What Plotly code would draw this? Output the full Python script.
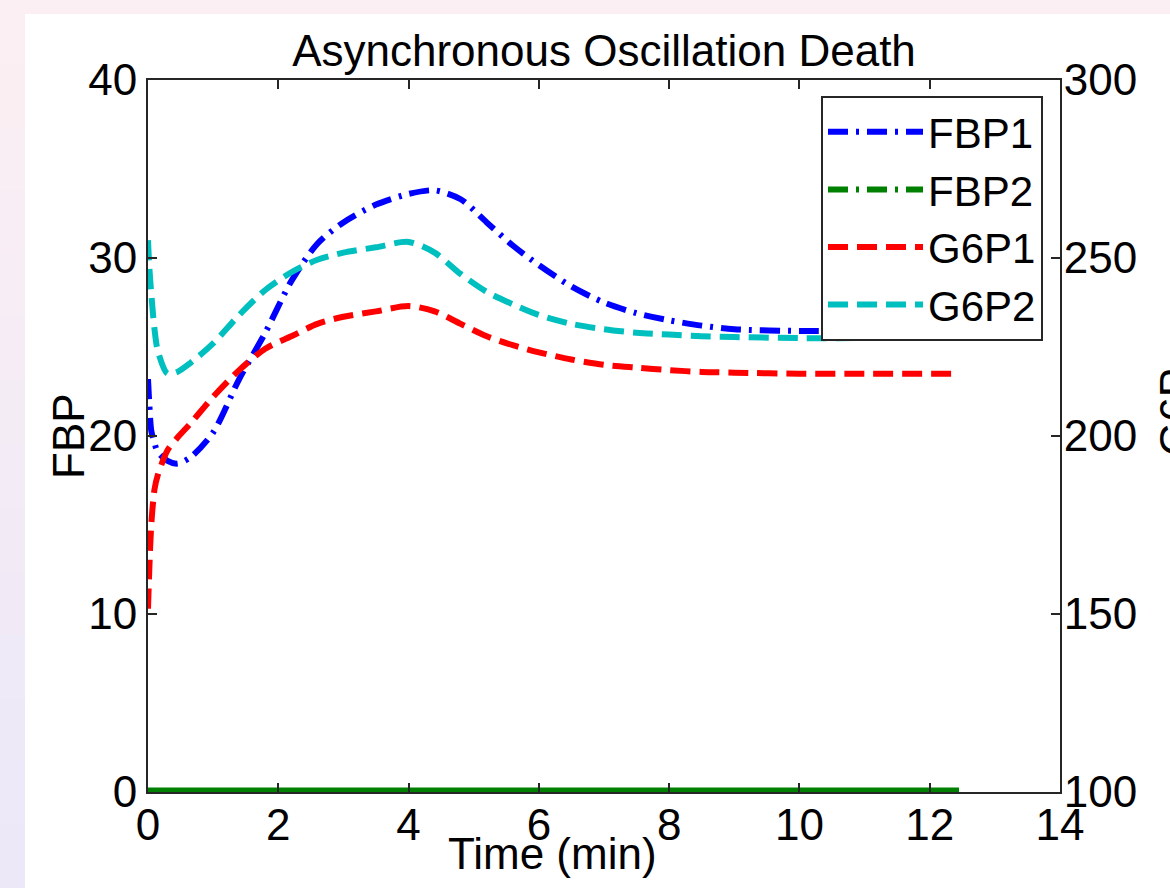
import plotly.graph_objects as go

# ---- data ----
time_min = [0, 0.02, 0.05, 0.1, 0.15, 0.3, 0.45, 0.65, 1.0, 1.4, 1.8, 2.2, 2.6, 3.0, 3.5,
            4.0, 4.4, 4.8, 5.2, 5.6, 6.0, 6.5, 7.0, 7.5, 8.0, 8.5, 9.0, 10.0, 11.0, 12.45]

fbp1 = [23.2, 21.8, 20.3, 19.6, 19.1, 18.6, 18.45, 18.8, 20.2, 23.2, 25.8, 28.7, 30.8, 32.0, 33.0,
        33.6, 33.8, 33.3, 32.0, 30.7, 29.6, 28.4, 27.5, 26.9, 26.5, 26.2, 26.0, 25.9, 25.9, 25.9]

fbp2 = [0.0] * len(time_min)

g6p1 = [151.5, 162.5, 175, 185, 189, 196, 199.5, 203.5, 211, 218.5, 224.5, 228, 231.5, 233.5, 235,
        236.5, 235, 231.5, 228, 225.5, 223.5, 221.5, 220, 219.2, 218.5, 218, 217.8, 217.5, 217.5, 217.5]

g6p2 = [255, 247.5, 240, 230, 224, 217.5, 218, 220.5, 226, 234, 241, 246, 249.5, 251.5, 253,
        254.5, 251.5, 245.5, 240.5, 237, 234, 231.5, 230, 229, 228.5, 228, 227.8, 227.5, 227.5, 227.5]

x_ticks = [0, 2, 4, 6, 8, 10, 12, 14]
fbp_ticks = [0, 10, 20, 30, 40]
g6p_ticks = [100, 150, 200, 250, 300]

FONT = "Liberation Sans, Arial, Helvetica, sans-serif"
W, H = 1170, 888
L, R, T, B = 148, 110, 80, 96
PW, PH = W - L - R, H - T - B


def px_x(p):
    return (p - L) / PW


def px_y(p):
    return (H - B - p) / PH


DASHDOT = "20px,8px,3px,8px"
DASH = "20px,9px"

fig = go.Figure()
fig.add_trace(go.Scatter(x=time_min, y=fbp1, name="FBP1", mode="lines",
                         line=dict(color="#0000ff", width=6, dash=DASHDOT, shape="spline", smoothing=0.8),
                         yaxis="y"))
# FBP2: drawn solid on the plot (as in the reference), dash-dot sample in the legend
fig.add_trace(go.Scatter(x=[None], y=[None], name="FBP2", mode="lines",
                         line=dict(color="#008000", width=6, dash=DASHDOT),
                         yaxis="y", legendgroup="fbp2"))
fig.add_trace(go.Scatter(x=time_min, y=fbp2, name="FBP2", mode="lines", showlegend=False,
                         line=dict(color="#008000", width=9),
                         yaxis="y", legendgroup="fbp2"))
fig.add_trace(go.Scatter(x=time_min, y=g6p1, name="G6P1", mode="lines",
                         line=dict(color="#ff0000", width=6, dash=DASH, shape="spline", smoothing=0.8),
                         yaxis="y2"))
fig.add_trace(go.Scatter(x=time_min, y=g6p2, name="G6P2", mode="lines",
                         line=dict(color="#00bfbf", width=6, dash=DASH, shape="spline", smoothing=0.8),
                         yaxis="y2"))

# page background (pink/lavender frame) and white figure area
shapes = []
n = 14
c_top = (251, 239, 243)
c_bot = (236, 232, 248)
for i in range(n):
    f = i / (n - 1)
    c = tuple(round(c_top[k] + (c_bot[k] - c_top[k]) * f) for k in range(3))
    y0 = i * H / n
    y1 = (i + 1) * H / n + 1
    shapes.append(dict(type="rect", xref="paper", yref="paper", layer="below",
                       x0=px_x(-2), x1=px_x(25), y0=px_y(y1), y1=px_y(y0),
                       fillcolor="rgb(%d,%d,%d)" % c, line=dict(width=0)))
shapes.append(dict(type="rect", xref="paper", yref="paper", layer="below",
                   x0=px_x(25), x1=px_x(W + 5), y0=px_y(H + 5), y1=px_y(14),
                   fillcolor="white", line=dict(width=0)))

axis_common = dict(showgrid=False, zeroline=False, showline=True, linecolor="#262626", linewidth=2,
                   ticks="inside", ticklen=9, tickwidth=1.5, tickcolor="#262626", automargin=False,
                   tickfont=dict(family=FONT, size=44, color="black"))

title_font = dict(family=FONT, size=44, color="black")
annotations = [
    dict(text="Time (min)", xref="paper", yref="paper", x=px_x(552), y=px_y(853),
         xanchor="center", yanchor="middle", showarrow=False, font=title_font),
    dict(text="FBP", xref="paper", yref="paper", x=px_x(68), y=px_y(436), textangle=-90,
         xanchor="center", yanchor="middle", showarrow=False, font=title_font),
    dict(text="G6P", xref="paper", yref="paper", x=px_x(1175), y=px_y(412), textangle=-90,
         xanchor="center", yanchor="middle", showarrow=False, font=title_font),
]

fig.update_layout(
    width=W, height=H,
    margin=dict(l=L, r=R, t=T, b=B, pad=0, autoexpand=False),
    paper_bgcolor="rgb(251,239,243)",
    plot_bgcolor="white",
    shapes=shapes,
    annotations=annotations,
    title=dict(text="Asynchronous Oscillation Death", x=604 / W, xanchor="center",
               y=1 - 51 / H, yanchor="middle", yref="container", xref="container",
               font=title_font),
    xaxis=dict(range=[0, 14], tickvals=x_ticks, mirror="ticks",
               ticklabelstandoff=-7, **axis_common),
    yaxis=dict(range=[0, 40], tickvals=fbp_ticks,
               ticklabelstandoff=0, **axis_common),
    yaxis2=dict(range=[100, 300], tickvals=g6p_ticks, overlaying="y", side="right",
                ticklabelstandoff=-7, **axis_common),
    legend=dict(x=px_x(1043), y=px_y(96), xanchor="right", yanchor="top",
                bgcolor="white", bordercolor="#262626", borderwidth=2,
                font=dict(family=FONT, size=42, color="black"),
                itemwidth=95, tracegroupgap=0),
    showlegend=True,
)

fig.write_html("out.html", config={"displayModeBar": False},
               post_script="document.body.style.margin='0';document.body.style.overflow='hidden';")
